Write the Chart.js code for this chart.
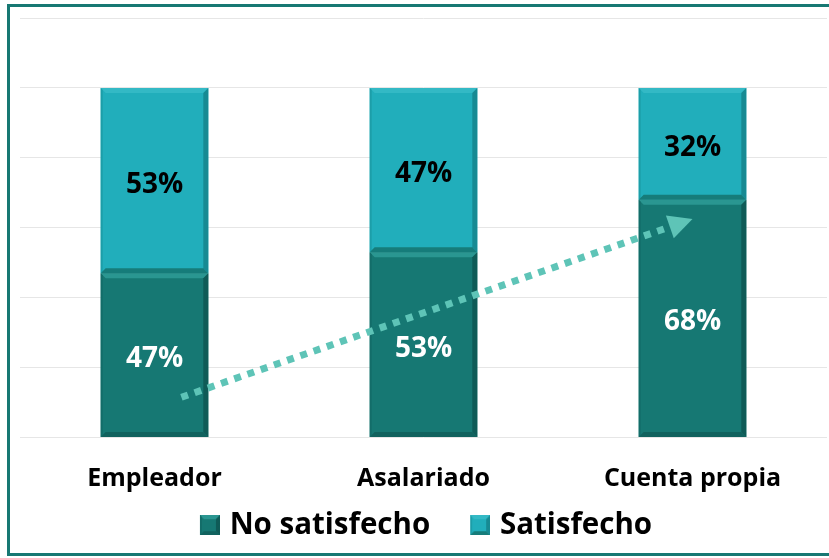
<!DOCTYPE html>
<html>
<head>
<meta charset="utf-8">
<script src="https://cdn.jsdelivr.net/npm/chart.js@4.4.1/dist/chart.umd.min.js"></script>
<style>
  html, body { margin: 0; padding: 0; background: #fff; }
  #wrap { position: relative; width: 829px; height: 558px; overflow: hidden; }
  #frame { position: absolute; left: 7px; top: 4px; width: 840px; height: 546px; border: 3px solid #177873; }
  canvas { position: absolute; left: 0; top: 0; }
</style>
</head>
<body>
<div id="wrap">
  <div id="frame"></div>
  <canvas id="chart" width="829" height="558"></canvas>
</div>
<script>
// datos
const categorias = ['Empleador', 'Asalariado', 'Cuenta propia'];
const noSatisfecho = [47, 53, 68];
const satisfecho = [53, 47, 32];
const ticksY = [0, 20, 40, 60, 80, 100, 120];

// colores
const colorOscuro = '#167873';
const colorClaro = '#21aebb';
const colorFlecha = '#5ec4b7';

// flecha (posicion en unidades de categoria / valor)
const flechaDesde = { cat: 0.1, val: 11.5 };
const flechaHasta = { cat: 2.0, val: 62.5 };

const fuente = "'Open Sans', 'Noto Sans', sans-serif";

// dibuja un rectangulo con bisel
function bisel(ctx, l, t, r, b, oscuro, d) {
    ctx.save();
    ctx.fillStyle = oscuro ? '#2a9691' : '#33b9c5';
    ctx.beginPath();
    ctx.moveTo(l, t); ctx.lineTo(r, t); ctx.lineTo(r - d, t + d); ctx.lineTo(l + d, t + d);
    ctx.closePath(); ctx.fill();
    ctx.fillStyle = oscuro ? '#136d69' : '#1c9ea9';
    ctx.beginPath();
    ctx.moveTo(l, t); ctx.lineTo(l + 2, t + 2); ctx.lineTo(l + 2, b - 2); ctx.lineTo(l, b);
    ctx.closePath(); ctx.fill();
    ctx.fillStyle = oscuro ? '#0f5b57' : '#178a93';
    ctx.beginPath();
    ctx.moveTo(r, t); ctx.lineTo(r - d, t + d); ctx.lineTo(r - d, b - d); ctx.lineTo(r, b);
    ctx.closePath(); ctx.fill();
    ctx.fillStyle = oscuro ? '#11625e' : '#167c7a';
    ctx.beginPath();
    ctx.moveTo(l, b); ctx.lineTo(l + d, b - d); ctx.lineTo(r - d, b - d); ctx.lineTo(r, b);
    ctx.closePath(); ctx.fill();
    ctx.restore();
}

// iconos de la leyenda (cuadro a la derecha de un lienzo de 30px)
function icono(color, oscuro) {
    const c = document.createElement('canvas');
    c.width = 30; c.height = 20;
    const g = c.getContext('2d');
    g.fillStyle = color;
    g.fillRect(10, 0, 20, 20);
    bisel(g, 10, 0, 30, 20, oscuro, 4);
    return c;
}
const iconos = [icono(colorOscuro, true), icono(colorClaro, false)];

const biselPlugin = {
    id: 'bisel',
    afterLayout(chart) {
        // que las etiquetas del eje x no se recorten
        chart.scales.x.bottom = chart.height;
    },
    afterDatasetsDraw(chart) {
        const ctx = chart.ctx;
        chart.data.datasets.forEach((ds, i) => {
            chart.getDatasetMeta(i).data.forEach(bar => {
                const l = bar.x - bar.width / 2, r = bar.x + bar.width / 2;
                const t = Math.min(bar.y, bar.base), b = Math.max(bar.y, bar.base);
                bisel(ctx, l, t, r, b, i === 0, 5);
            });
        });
        // etiquetas de valor
        chart.data.datasets.forEach((ds, i) => {
            chart.getDatasetMeta(i).data.forEach((bar, j) => {
                ctx.save();
                ctx.font = 'bold 28px ' + fuente;
                ctx.textAlign = 'center';
                ctx.textBaseline = 'middle';
                ctx.fillStyle = i === 0 ? '#ffffff' : '#000000';
                ctx.fillText(ds.data[j] + '%', bar.x, (bar.y + bar.base) / 2 + 4);
                ctx.restore();
            });
        });
    }
};

// flecha punteada
const flechaPlugin = {
    id: 'flecha',
    afterDatasetsDraw(chart) {
        const ctx = chart.ctx;
        const xs = chart.scales.x, ys = chart.scales.y;
        const paso = xs.getPixelForValue(1) - xs.getPixelForValue(0);
        const x0 = xs.getPixelForValue(0) + flechaDesde.cat * paso;
        const y0 = ys.getPixelForValue(flechaDesde.val);
        const x1 = xs.getPixelForValue(0) + flechaHasta.cat * paso;
        const y1 = ys.getPixelForValue(flechaHasta.val);
        const ang = Math.atan2(y1 - y0, x1 - x0);
        const largo = 24;
        const xb = x1 - largo * Math.cos(ang), yb = y1 - largo * Math.sin(ang);
        ctx.save();
        ctx.strokeStyle = colorFlecha;
        ctx.lineWidth = 7;
        ctx.setLineDash([7, 7]);
        ctx.beginPath();
        ctx.moveTo(x0, y0);
        ctx.lineTo(xb, yb);
        ctx.stroke();
        ctx.setLineDash([]);
        ctx.fillStyle = colorFlecha;
        ctx.beginPath();
        ctx.moveTo(x1, y1);
        ctx.lineTo(xb + 12 * Math.sin(ang), yb - 12 * Math.cos(ang));
        ctx.lineTo(xb - 12 * Math.sin(ang), yb + 12 * Math.cos(ang));
        ctx.closePath();
        ctx.fill();
        ctx.restore();
    }
};

new Chart(document.getElementById('chart'), {
    type: 'bar',
    data: {
        labels: categorias,
        datasets: [
            { label: 'No satisfecho', data: noSatisfecho, backgroundColor: colorOscuro, borderWidth: 0, barPercentage: 0.4, categoryPercentage: 1 },
            { label: 'Satisfecho', data: satisfecho, backgroundColor: colorClaro, borderWidth: 0, barPercentage: 0.4, categoryPercentage: 1 }
        ]
    },
    options: {
        responsive: false,
        animation: false,
        layout: { padding: { left: 20, right: 2, top: 18, bottom: 8 } },
        scales: {
            x: {
                stacked: true,
                grid: { display: false, drawTicks: false },
                border: { display: false },
                ticks: { color: '#000', padding: 26, font: { family: fuente, size: 25, weight: 'bold' } },
                afterFit: axis => { axis.height = 38; }
            },
            y: {
                stacked: true,
                min: 0,
                max: 120,
                afterBuildTicks: axis => { axis.ticks = ticksY.map(v => ({ value: v })); },
                ticks: { display: false },
                grid: { color: '#e6e6e6', lineWidth: 1, drawTicks: false },
                border: { display: false }
            }
        },
        plugins: {
            tooltip: { enabled: false },
            legend: {
                position: 'bottom',
                labels: {
                    color: '#000',
                    usePointStyle: true,
                    pointStyleWidth: 20,
                    boxWidth: 20,
                    boxHeight: 20,
                    padding: 35,
                    font: { family: fuente, size: 29.5, weight: 'bold' },
                    generateLabels(chart) {
                        const items = Chart.defaults.plugins.legend.labels.generateLabels(chart);
                        items.forEach((it, i) => { it.pointStyle = iconos[i]; });
                        return items;
                    }
                }
            }
        }
    },
    plugins: [biselPlugin, flechaPlugin]
});
</script>
</body>
</html>
